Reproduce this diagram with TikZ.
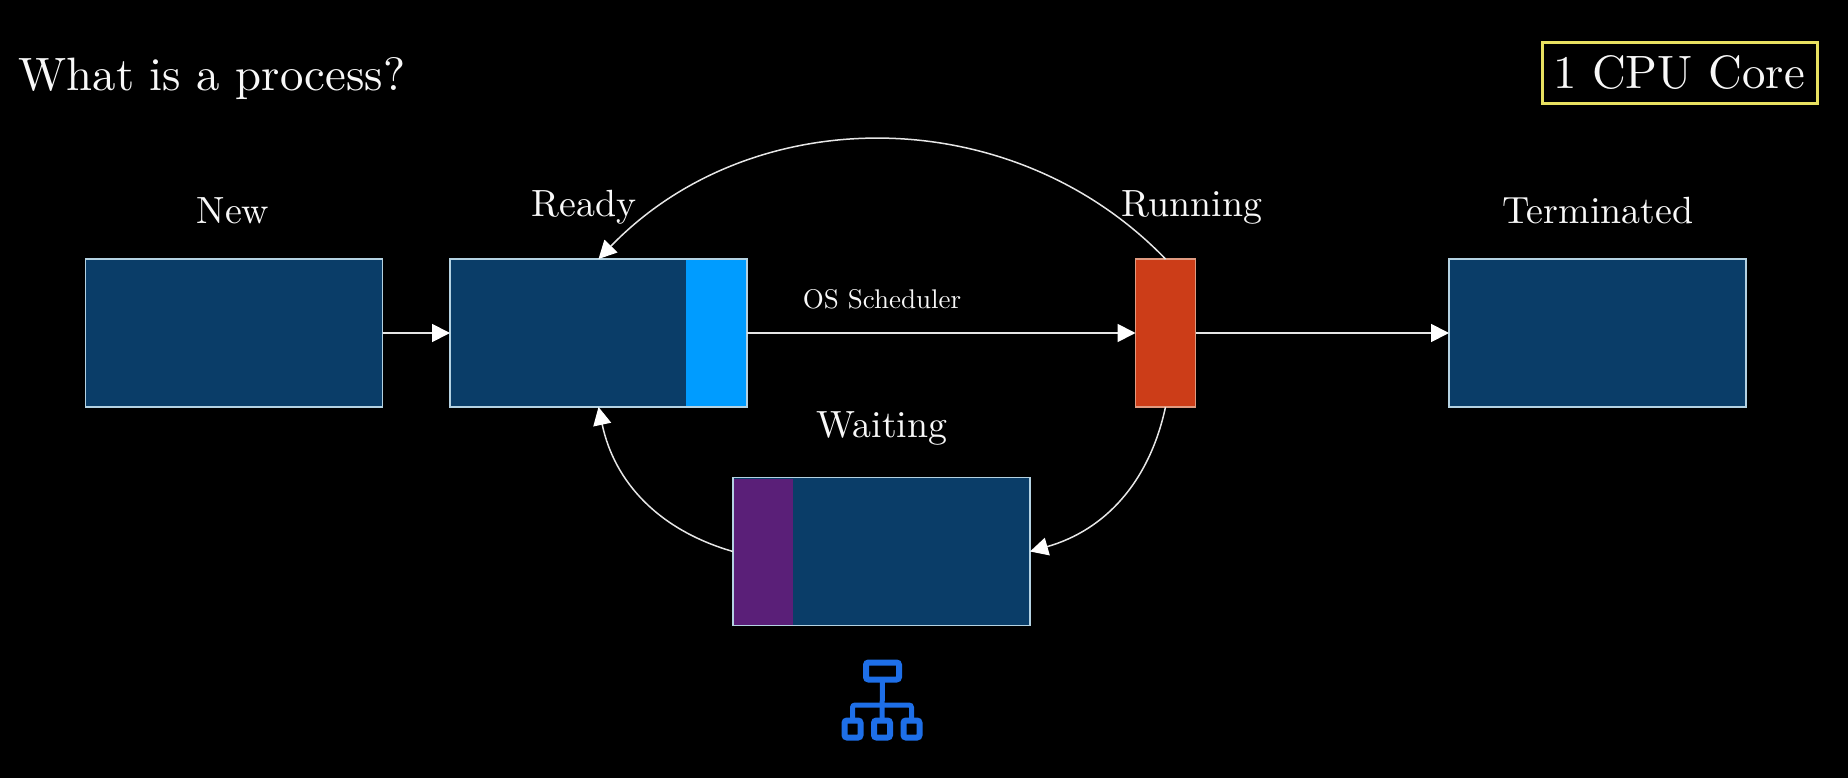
\documentclass[tikz,border=0pt]{standalone}
\usetikzlibrary{arrows.meta}
\definecolor{boxfill}{HTML}{0A3D68}
\definecolor{boxline}{HTML}{B4D2E2}
\definecolor{wire}{HTML}{E6E6E6}
\definecolor{readypart}{HTML}{009CFF}
\definecolor{runpart}{HTML}{CC3D18}
\definecolor{runline}{HTML}{E09A80}
\definecolor{waitpart}{HTML}{5A1F78}
\definecolor{iconblue}{HTML}{1E6FE8}
\definecolor{corebox}{HTML}{E8E060}
\definecolor{ink}{HTML}{F8F8F8}
\newcommand{\bigt}[1]{\scalebox{4.68}{#1}}
\newcommand{\midt}[1]{\scalebox{3.79}{#1}}
\newcommand{\smallt}[1]{\scalebox{2.7}{#1}}
\tikzset{
  statebox/.style={draw=boxline,fill=boxfill,line width=1.8pt,minimum width=297pt,minimum height=148pt,inner sep=0pt,outer sep=0pt},
  part/.style={minimum height=146pt,inner sep=0pt,outer sep=0pt},
  wirearrow/.style={draw=wire,line width=1.8pt,-{Triangle[length=18pt,width=18pt,color=white]}},
  arcarrow/.style={wirearrow,line width=1.5pt},
  statelabel/.style={text=ink,anchor=base,inner sep=0pt},
  iconpart/.style={draw=iconblue,line width=6pt,rounded corners=2.5pt},
  iconbox/.style={iconpart,minimum height=17pt,inner sep=0pt,outer sep=0pt},
}
\begin{document}
\begin{tikzpicture}[x=1pt,y=-1pt]
\fill[black] (0,0) rectangle (1848,778);
\useasboundingbox (0,0) rectangle (1848,778);
\node[statelabel] (title) at (212,91) {\bigt{What is a process?}};
\node[statelabel] (cores) at (1679,89) {\bigt{1 CPU Core}};
\node[draw=corebox,line width=3pt,minimum width=275pt,minimum height=61pt,inner sep=0pt] (corefr) at (1679.5,73.5) {};
\node[statebox] (new) at (234,333) {};
\node[statebox] (ready) at (598.5,333) {};
\node[part,fill=readypart,minimum width=60pt] (readyp) at (716,333) {};
\node[statebox,draw=runline,fill=runpart,minimum width=60pt] (run) at (1165.5,333) {};
\node[statebox] (term) at (1597.5,333) {};
\node[statebox] (wait) at (881.5,551.5) {};
\node[part,fill=waitpart,minimum width=59pt] (waitp) at (763.5,551.5) {};
\node[statelabel] (lnew) at (233,224) {\midt{New}};
\node[statelabel] (lready) at (584,217) {\midt{Ready}};
\node[statelabel] (lrun) at (1192,217) {\midt{Running}};
\node[statelabel] (lterm) at (1598,224) {\midt{Terminated}};
\node[statelabel] (lwait) at (882,437) {\midt{Waiting}};
\node[statelabel] (lsched) at (882,308) {\smallt{OS Scheduler}};
\draw[wirearrow] (new.east) -- (ready.west);
\draw[wirearrow] (ready.east) -- (run.west);
\draw[wirearrow] (run.east) -- (term.west);
\draw[arcarrow] (run.north) to[bend right=46] (ready.north);
\draw[arcarrow] (run.south) to[bend left=31] (wait.east);
\draw[arcarrow] (wait.west) to[bend left=31] (ready.south);
% hierarchy icon
\node[iconbox,minimum width=33pt] (itop) at (882.5,671) {};
\node[iconbox,minimum width=16pt] (il) at (852.5,729) {};
\node[iconbox,minimum width=16pt] (im) at (882,729) {};
\node[iconbox,minimum width=16pt] (ir) at (911.5,729) {};
\coordinate (ij) at (882,705);
\draw[iconpart,line width=5pt] (itop.south) -- (im.north);
\draw[iconpart,line width=5pt] (il.north) |- (ij) -| (ir.north);
\end{tikzpicture}
\end{document}
